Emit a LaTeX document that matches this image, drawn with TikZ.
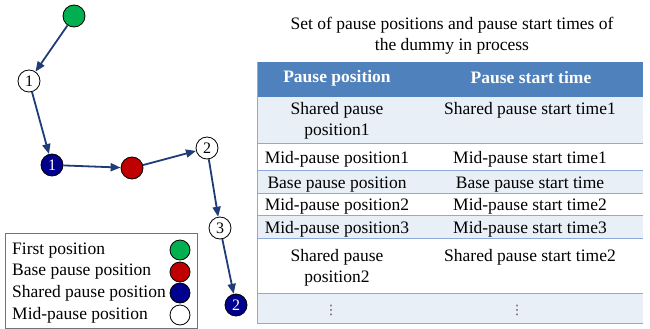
\documentclass[tikz,border=0pt]{standalone}
\usepackage{fontspec}
\setmainfont{Liberation Serif}
\newfontfamily\dotsfont{DejaVu Sans}
\usetikzlibrary{arrows.meta}
\definecolor{hdrblue}{HTML}{4F81BD}
\definecolor{rowlight}{HTML}{E9EFF7}
\definecolor{sepblue}{HTML}{8EAADB}
\definecolor{arrowblue}{HTML}{1F3C78}
\definecolor{firstgreen}{HTML}{00B050}
\definecolor{basered}{HTML}{C00000}
\definecolor{sharedblue}{HTML}{00008C}
\tikzset{
  posnode/.style={circle,draw=black,line width=0.8pt,minimum size=22pt,inner sep=0pt,font=\fontsize{16}{16}\selectfont},
  firstpos/.style={posnode,fill=firstgreen},
  basepos/.style={posnode,fill=basered},
  sharedpos/.style={posnode,fill=sharedblue,text=white},
  midpos/.style={posnode,fill=white},
  legdot/.style={circle,draw=black,line width=0.8pt,minimum size=20pt,inner sep=0pt},
  flow/.style={draw=arrowblue,line width=1.8pt,-{Triangle[length=10pt,width=8pt]}},
  txt/.style={font=\fontsize{17.5}{21}\selectfont,inner sep=0pt},
  legtxt/.style={txt,anchor=west},
  celltxt/.style={txt,align=center,anchor=north},
  hdrtxt/.style={txt,font=\fontsize{17.5}{21}\selectfont\bfseries,text=white},
  vdotstxt/.style={font=\dotsfont\fontsize{13}{13}\selectfont,inner sep=0pt,text=black!70},
  sepline/.style={draw=sepblue,line width=0.8pt}
}
\begin{document}
\begin{tikzpicture}[x=1pt,y=-1pt]
\useasboundingbox (0,0) rectangle (650,329);
% path nodes
\node[firstpos] (g) at (74,16) {};
\node[midpos] (m1) at (29,81) {1};
\node[sharedpos] (s1) at (52,165) {1};
\node[basepos] (r) at (132,168) {};
\node[midpos] (m2) at (207,148) {2};
\node[midpos] (m3) at (220,228) {3};
\node[sharedpos] (s2) at (236,305) {2};
\draw[flow] (g) -- (m1);
\draw[flow] (m1) -- (s1);
\draw[flow] (s1) -- (r);
\draw[flow] (r) -- (m2);
\draw[flow] (m2) -- (m3);
\draw[flow] (m3) -- (s2);
% legend
\draw[draw=black!55,line width=0.8pt] (5,233) rectangle (197,328.5);
\node[legtxt] (l1) at (12,251) {First position};
\node[legtxt] (l2) at (12,272) {Base pause position};
\node[legtxt] (l3) at (12,293.5) {Shared pause position};
\node[legtxt] (l4) at (12,315) {Mid-pause position};
\node[legdot,fill=firstgreen] (d1) at (180,250) {};
\node[legdot,fill=basered] (d2) at (180,272) {};
\node[legdot,fill=sharedblue] (d3) at (180,293) {};
\node[legdot,fill=white] (d4) at (180,315) {};
% table title
\node[txt,align=center] (title) at (452,36) {Set of pause positions and pause start times of\\the dummy in process};
% table backgrounds
\fill[hdrblue] (257,62) rectangle (643,97);
\fill[rowlight] (257,97) rectangle (643,143);
\fill[rowlight] (257,170) rectangle (643,193);
\fill[rowlight] (257,215) rectangle (643,238);
\fill[rowlight] (257,293) rectangle (643,323);
\foreach \yy in {143,170,193,215,238,293,323} {\draw[sepline] (257,\yy) -- (643,\yy);}
\draw[sepline] (257,62) -- (257,323);
% header
\node[hdrtxt] (h1) at (337,78) {Pause position};
\node[hdrtxt] (h2) at (531,78) {Pause start time};
% rows
\node[celltxt] (a1) at (337,102) {Shared pause\\position1};
\node[celltxt] (b1) at (530,102) {Shared pause start time1};
\node[celltxt] (a2) at (337,151.5) {Mid-pause position1};
\node[celltxt] (b2) at (530,151.5) {Mid-pause start time1};
\node[celltxt] (a3) at (337,176.5) {Base pause position};
\node[celltxt] (b3) at (530,176.5) {Base pause start time};
\node[celltxt] (a4) at (337,198.5) {Mid-pause position2};
\node[celltxt] (b4) at (530,198.5) {Mid-pause start time2};
\node[celltxt] (a5) at (337,221) {Mid-pause position3};
\node[celltxt] (b5) at (530,221) {Mid-pause start time3};
\node[celltxt] (a6) at (337,249) {Shared pause\\position2};
\node[celltxt] (b6) at (530,249) {Shared pause start time2};
\node[vdotstxt] (a7) at (331,310) {⋮};
\node[vdotstxt] (b7) at (517,310) {⋮};
\end{tikzpicture}
\end{document}
